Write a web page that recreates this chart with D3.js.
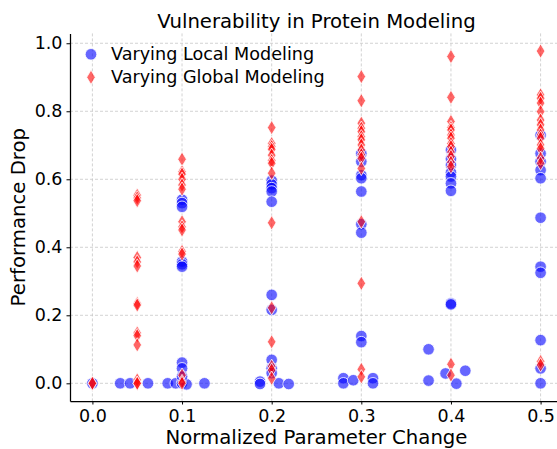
<!DOCTYPE html>
<html>
<head>
<meta charset="utf-8">
<script src="https://cdn.jsdelivr.net/npm/d3@7"></script>
<style>
  body { margin: 0; background: #fff; }
  text { font-family: "DejaVu Sans", sans-serif; }
</style>
</head>
<body>
<div id="chart"></div>
<script>
// Varying Local Modeling (blue circles)
const localX = [
  0.0, 0.031, 0.042, 0.062,
  0.084, 0.093, 0.1, 0.105, 0.125,
  0.1, 0.1, 0.1, 0.1, 0.1, 0.1, 0.1, 0.1, 0.1,
  0.2, 0.2, 0.2, 0.2, 0.2, 0.2, 0.2, 0.2, 0.2, 0.2,
  0.187, 0.187, 0.208, 0.219,
  0.3, 0.3, 0.3, 0.3, 0.3, 0.3, 0.3, 0.3, 0.3,
  0.28, 0.28, 0.291, 0.313, 0.313,
  0.4, 0.4, 0.4, 0.4, 0.4, 0.4, 0.4, 0.4, 0.4,
  0.375, 0.375, 0.394, 0.406, 0.416,
  0.5, 0.5, 0.5, 0.5, 0.5, 0.5, 0.5, 0.5, 0.5, 0.5, 0.5
];
const localY = [
  0.0, 0.0, 0.0, 0.0,
  0.0, 0.0, 0.0, -0.003, 0.0,
  0.540, 0.530, 0.519, 0.358, 0.350, 0.343, 0.061, 0.044, 0.020,
  0.596, 0.585, 0.574, 0.564, 0.534, 0.260, 0.216, 0.069, 0.044, 0.030,
  0.005, -0.002, 0.0, -0.002,
  0.676, 0.652, 0.612, 0.603, 0.564, 0.468, 0.443, 0.139, 0.121,
  0.015, 0.0, 0.009, 0.015, 0.0,
  0.686, 0.660, 0.642, 0.620, 0.608, 0.588, 0.566, 0.235, 0.232,
  0.100, 0.008, 0.029, -0.001, 0.037,
  0.730, 0.676, 0.652, 0.627, 0.603, 0.487, 0.343, 0.325, 0.127, 0.044, 0.0
];

// Varying Global Modeling (red diamonds)
const globalX = [
  0.0, 0.0,
  0.05, 0.05, 0.05, 0.05, 0.05, 0.05, 0.05, 0.05, 0.05, 0.05, 0.05, 0.05, 0.05, 0.05,
  0.1, 0.1, 0.1, 0.1, 0.1, 0.1, 0.1, 0.1, 0.1, 0.1, 0.1, 0.1, 0.1, 0.1,
  0.2, 0.2, 0.2, 0.2, 0.2, 0.2, 0.2, 0.2, 0.2, 0.2, 0.2, 0.2, 0.2, 0.2,
  0.3, 0.3, 0.3, 0.3, 0.3, 0.3, 0.3, 0.3, 0.3, 0.3, 0.3, 0.3, 0.3, 0.3, 0.3, 0.3,
  0.4, 0.4, 0.4, 0.4, 0.4, 0.4, 0.4, 0.4, 0.4, 0.4, 0.4, 0.4, 0.4, 0.4, 0.4,
  0.5, 0.5, 0.5, 0.5, 0.5, 0.5, 0.5, 0.5, 0.5, 0.5, 0.5, 0.5, 0.5, 0.5, 0.5, 0.5
];
const globalY = [
  0.0, 0.0,
  0.553, 0.545, 0.537, 0.370, 0.357, 0.345, 0.235, 0.230, 0.148, 0.140, 0.113, 0.010, 0.0, 0.0,
  0.659, 0.622, 0.615, 0.600, 0.583, 0.571, 0.475, 0.460, 0.451, 0.388, 0.380, 0.024, 0.005, 0.0,
  0.752, 0.705, 0.696, 0.688, 0.671, 0.655, 0.647, 0.618, 0.472, 0.222, 0.122, 0.050, 0.039, 0.015,
  0.902, 0.831, 0.765, 0.750, 0.740, 0.725, 0.716, 0.701, 0.686, 0.672, 0.662, 0.632, 0.475, 0.294, 0.041, 0.019,
  0.961, 0.841, 0.770, 0.752, 0.745, 0.730, 0.721, 0.705, 0.696, 0.680, 0.667, 0.650, 0.637, 0.056, 0.024,
  0.977, 0.848, 0.838, 0.824, 0.799, 0.774, 0.760, 0.745, 0.730, 0.721, 0.701, 0.690, 0.662, 0.647, 0.064, 0.054
];

const xTicks = [0.0, 0.1, 0.2, 0.3, 0.4, 0.5];
const yTicks = [0.0, 0.2, 0.4, 0.6, 0.8, 1.0];
const seriesNames = ["Varying Local Modeling", "Varying Global Modeling"];

const width = 557,
      height = 449,
      plotLeft = 70, plotRight = 563, plotTop = 33.4, plotBottom = 401;

let svg = d3.select("#chart")
    .append("svg")
    .attr("width", width)
    .attr("height", height);

let x = d3.scaleLinear().domain([-0.025, 0.525]).range([plotLeft, plotRight]);
let y = d3.scaleLinear().domain([-0.052, 1.029]).range([plotBottom, plotTop]);

// grid
svg.append("g")
  .selectAll("line")
  .data(xTicks)
  .enter().append("line")
  .attr("x1", d => x(d)).attr("x2", d => x(d))
  .attr("y1", plotTop).attr("y2", plotBottom)
  .style("stroke", "#c8c8c8").style("stroke-width", "0.8px")
  .style("stroke-dasharray", "3,2");

svg.append("g")
  .selectAll("line")
  .data(yTicks)
  .enter().append("line")
  .attr("x1", plotLeft).attr("x2", plotRight)
  .attr("y1", d => y(d)).attr("y2", d => y(d))
  .style("stroke", "#c8c8c8").style("stroke-width", "0.8px")
  .style("stroke-dasharray", "3,2");

// axes
let xAxis = svg.append("g")
  .attr("transform", `translate(0,${plotBottom})`)
  .call(d3.axisBottom(x).tickValues(xTicks).tickFormat(d3.format(".1f")).tickSizeInner(3.5).tickSizeOuter(0).tickPadding(5));
let yAxis = svg.append("g")
  .attr("transform", `translate(${plotLeft},0)`)
  .call(d3.axisLeft(y).tickValues(yTicks).tickFormat(d3.format(".1f")).tickSizeInner(3.5).tickSizeOuter(0).tickPadding(4));

[xAxis, yAxis].forEach(a => {
  a.select(".domain").style("stroke", "#000").style("stroke-width", "1.25px");
  a.selectAll(".tick line").style("stroke", "#000").style("stroke-width", "1px");
  a.selectAll(".tick text")
    .style("font-family", "DejaVu Sans")
    .style("font-size", "17.5px")
    .style("fill", "#000");
});

// points
const diamond = "M0,-7.2L4.3,0L0,7.2L-4.3,0Z";
const localPts = localX.map((d, i) => ({x: d, y: localY[i]}));
const globalPts = globalX.map((d, i) => ({x: d, y: globalY[i]}));

svg.append("g")
  .selectAll("circle")
  .data(localPts)
  .enter().append("circle")
  .attr("cx", d => x(d.x))
  .attr("cy", d => y(d.y))
  .attr("r", 5.8)
  .style("fill", "blue")
  .style("fill-opacity", 0.6)
  .style("stroke", "#fff")
  .style("stroke-width", "0.8px");

svg.append("g")
  .selectAll("path")
  .data(globalPts)
  .enter().append("path")
  .attr("d", diamond)
  .attr("transform", d => `translate(${x(d.x)},${y(d.y)})`)
  .style("fill", "red")
  .style("fill-opacity", 0.6)
  .style("stroke", "#fff")
  .style("stroke-width", "0.8px");

// legend
let legend = svg.append("g");
legend.append("circle")
  .attr("cx", 91).attr("cy", 54.3).attr("r", 5.8)
  .style("fill", "blue").style("fill-opacity", 0.6)
  .style("stroke", "#fff").style("stroke-width", "0.8px");
legend.append("path")
  .attr("d", diamond)
  .attr("transform", "translate(91,77.3)")
  .style("fill", "red").style("fill-opacity", 0.6)
  .style("stroke", "#fff").style("stroke-width", "0.8px");
legend.selectAll("text")
  .data(seriesNames)
  .enter().append("text")
  .attr("x", 111)
  .attr("y", (d, i) => 59.5 + i * 23)
  .style("font-size", "17.6px")
  .style("fill", "#000")
  .text(d => d);

// title and labels
svg.append("text")
  .attr("x", (plotLeft + plotRight) / 2).attr("y", 28)
  .style("text-anchor", "middle")
  .style("font-size", "19.7px")
  .text("Vulnerability in Protein Modeling");

svg.append("text")
  .attr("x", (plotLeft + plotRight) / 2).attr("y", 444)
  .style("text-anchor", "middle")
  .style("font-size", "19.7px")
  .text("Normalized Parameter Change");

svg.append("text")
  .attr("transform", `translate(25,${(plotTop + plotBottom) / 2}) rotate(-90)`)
  .style("text-anchor", "middle")
  .style("font-size", "19.7px")
  .text("Performance Drop");
</script>
</body>
</html>
